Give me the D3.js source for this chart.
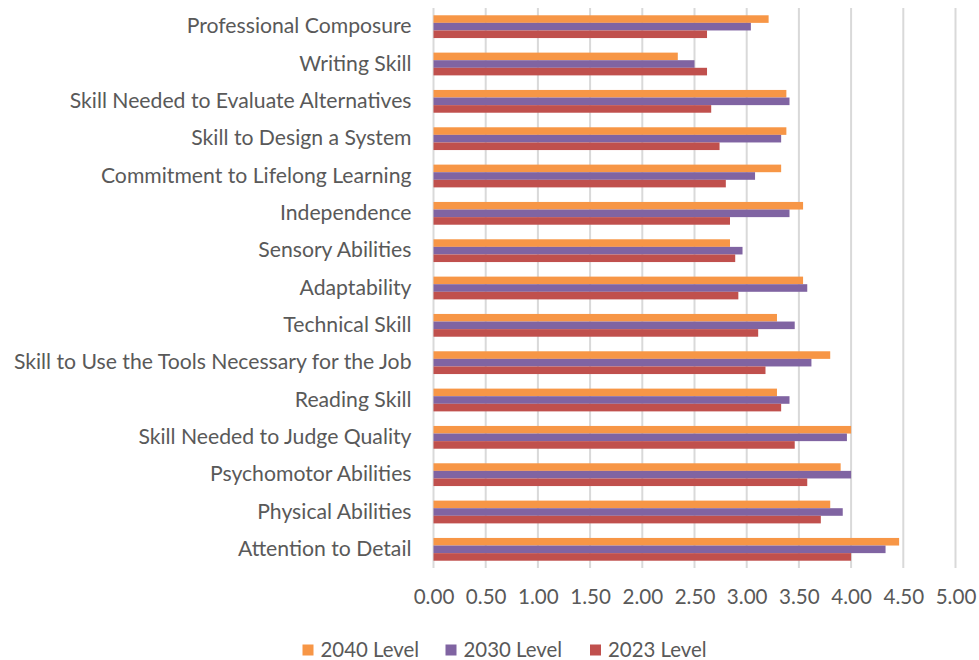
<!DOCTYPE html>
<html>
<head>
<meta charset="utf-8">
<script src="https://cdn.jsdelivr.net/npm/d3@7"></script>
<style>
  body { margin: 0; background: #fff; }
  svg { display: block; font-family: Lato, "Open Sans", sans-serif; }
</style>
</head>
<body>
<div id="chart"></div>
<script>
const categories = [
  "Professional Composure",
  "Writing Skill",
  "Skill Needed to Evaluate Alternatives",
  "Skill to Design a System",
  "Commitment to Lifelong Learning",
  "Independence",
  "Sensory Abilities",
  "Adaptability",
  "Technical Skill",
  "Skill to Use the Tools Necessary for the Job",
  "Reading Skill",
  "Skill Needed to Judge Quality",
  "Psychomotor Abilities",
  "Physical Abilities",
  "Attention to Detail"
];
const level2040 = [3.21, 2.34, 3.38, 3.38, 3.33, 3.54, 2.84, 3.54, 3.29, 3.80, 3.29, 4.00, 3.90, 3.80, 4.46];
const level2030 = [3.04, 2.50, 3.41, 3.33, 3.08, 3.41, 2.96, 3.58, 3.46, 3.62, 3.41, 3.96, 4.00, 3.92, 4.33];
const level2023 = [2.62, 2.62, 2.66, 2.74, 2.80, 2.84, 2.89, 2.92, 3.11, 3.18, 3.33, 3.46, 3.58, 3.71, 4.00];
const seriesNames = ["2040 Level", "2030 Level", "2023 Level"];
const seriesColors = ["#F79646", "#8064A2", "#C0504D"];
const xTicks = [0, 0.5, 1, 1.5, 2, 2.5, 3, 3.5, 4, 4.5, 5];

const W = 979, H = 660;
const plotLeft = 433.5, plotRight = 955.5, plotTop = 8, plotBottom = 568;
const textColor = "#595959";

const series = [level2040, level2030, level2023];

const svg = d3.select("#chart").append("svg")
  .attr("width", W).attr("height", H);

const x = d3.scaleLinear().domain([0, 5]).range([plotLeft, plotRight]);
const y = d3.scaleBand().domain(categories).range([plotTop, plotBottom])
  .paddingInner(0.39).paddingOuter(0.195);
const ySub = d3.scaleBand().domain(seriesNames).range([0, y.bandwidth()]);

// gridlines
svg.append("g").selectAll("line")
  .data(xTicks).enter().append("line")
  .attr("x1", d => x(d)).attr("x2", d => x(d))
  .attr("y1", plotTop).attr("y2", plotBottom)
  .attr("stroke", "#d9d9d9").attr("stroke-width", 2);

// bars
const groups = svg.append("g").selectAll("g")
  .data(categories).enter().append("g")
  .attr("transform", d => `translate(0,${y(d)})`);

groups.selectAll("rect")
  .data((c, i) => seriesNames.map((s, k) => ({ s: s, v: series[k][i], color: seriesColors[k] })))
  .enter().append("rect")
  .attr("x", x(0))
  .attr("y", d => ySub(d.s))
  .attr("width", d => x(d.v) - x(0))
  .attr("height", ySub.bandwidth())
  .attr("fill", d => d.color);

// category labels
const yAxis = svg.append("g")
  .attr("transform", `translate(${plotLeft - 22},0)`)
  .call(d3.axisLeft(y).tickSize(0).tickPadding(0));
yAxis.select(".domain").remove();
yAxis.selectAll("text")
  .attr("font-size", 21.2).attr("fill", textColor)
  .attr("font-family", "Lato, 'Open Sans', sans-serif");

// value axis
const xAxis = svg.append("g")
  .attr("transform", `translate(0,${plotBottom})`)
  .call(d3.axisBottom(x).tickValues(xTicks).tickFormat(d3.format(".2f")).tickSize(0).tickPadding(21));
xAxis.select(".domain").remove();
xAxis.selectAll("text")
  .attr("font-size", 20.6).attr("fill", textColor)
  .attr("font-family", "Lato, 'Open Sans', sans-serif");

// legend
const legendX = [302.5, 445.5, 590];
const legend = svg.append("g").selectAll("g")
  .data(seriesNames).enter().append("g")
  .attr("transform", (d, i) => `translate(${legendX[i]},650)`);
legend.append("rect")
  .attr("x", 0).attr("y", -5.5).attr("width", 11).attr("height", 11)
  .attr("fill", (d, i) => seriesColors[i]);
legend.append("text")
  .attr("x", 18).attr("y", 0).attr("dy", "0.35em")
  .attr("font-size", 20.4).attr("fill", textColor)
  .text(d => d);
</script>
</body>
</html>
